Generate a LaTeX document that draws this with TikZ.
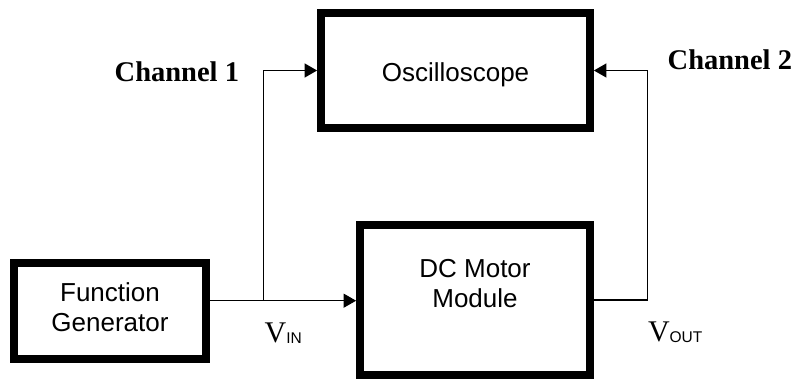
\documentclass[tikz,border=0pt]{standalone}
\usepackage{fontspec}
\setmainfont{Liberation Serif}
\setsansfont{Liberation Sans}
\usetikzlibrary{arrows.meta}
\tikzset{
  blockbox/.style={draw=black, line width=7.8pt, inner sep=0pt, fill=white},
  blocktext/.style={inner sep=0pt, align=center, font=\sffamily\fontsize{26}{30}\selectfont},
  chanlabel/.style={inner sep=0pt, font=\bfseries\fontsize{28.5}{30}\selectfont},
  siglabel/.style={inner sep=0pt},
  wire/.style={line width=1.3pt},
  arrowwire/.style={wire, -{Triangle[length=12.5pt,width=14pt]}},
}
\newcommand{\sigtext}[1]{{\fontsize{30}{30}\selectfont V}\raisebox{-1.2pt}{\sffamily\fontsize{15.5}{16}\selectfont #1}}
\begin{document}
\begin{tikzpicture}[x=1pt,y=-1pt]
\useasboundingbox (0,0) rectangle (799,379);
% blocks
\node[blockbox, minimum width=269pt, minimum height=115pt] (osc) at (455.5,70.5) {};
\node[blockbox, minimum width=230pt, minimum height=150pt] (dc) at (475,300) {};
\node[blockbox, minimum width=192pt, minimum height=96pt] (fg) at (110,311) {};
% block texts
\node[blocktext, anchor=base] (osct) at (455.5,82) {Oscilloscope};
\node[blocktext, anchor=north] (dct) at (475,259) {DC Motor\\Module};
\node[blocktext, anchor=north] (fgt) at (110,282.7) {Function\\Generator};
% junction coordinates
\coordinate (j1) at (263.3,300.7);
\coordinate (c2) at (647.7,70.5);
% connectors
\draw[wire] (fg.east |- j1) -- (j1);
\draw[arrowwire] (j1) -- (dc.west |- j1);
\draw[arrowwire] (j1) |- (osc.west);
\draw[wire] (dc.east) -| (c2);
\draw[arrowwire] (c2) -- (osc.east);
% labels
\node[chanlabel, anchor=base west] (ch1) at (114.5,82) {Channel 1};
\node[chanlabel, anchor=base west] (ch2) at (667.5,70) {Channel 2};
\node[siglabel, anchor=base west] (vin) at (264.5,342.5) {\sigtext{IN}};
\node[siglabel, anchor=base west] (vout) at (647.8,341) {\sigtext{OUT}};
\end{tikzpicture}
\end{document}
